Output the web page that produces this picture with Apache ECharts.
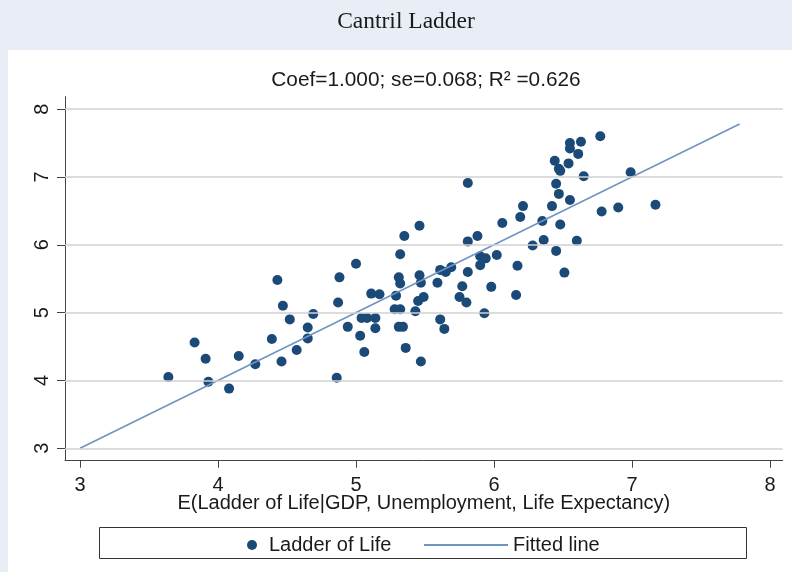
<!DOCTYPE html>
<html><head><meta charset="utf-8">
<script src="https://cdn.jsdelivr.net/npm/echarts@6/dist/echarts.min.js"></script>
<style>html,body{margin:0;padding:0;background:#fff}#c{width:792px;height:572px}</style>
</head><body><div id="c"></div>
<script>
// ---- text ----
const chartTitle = 'Cantril Ladder';
const statsLine = 'Coef=1.000; se=0.068; R\u00B2 =0.626';
const xAxisTitle = 'E(Ladder of Life|GDP, Unemployment, Life Expectancy)';
const seriesNames = ['Ladder of Life', 'Fitted line'];

// ---- tick labels ----
const xTicks = [3, 4, 5, 6, 7, 8];
const yTicks = [3, 4, 5, 6, 7, 8];

// ---- data: predicted ladder (x) and observed ladder (y) ----
const predicted = [
  3.64, 3.83, 3.91, 3.93, 4.08, 4.15, 4.27, 4.39, 4.43, 4.46,
  4.47, 4.52, 4.57, 4.65, 4.65, 4.69, 4.87, 4.86, 4.88, 5.81,
  5.46, 5.35, 5.81, 5.88, 6.06, 5.32, 5.00, 5.90, 5.94, 6.02,
  5.90, 5.31, 5.46, 5.32, 5.47, 5.61, 5.65, 5.69, 5.81, 5.59,
  5.77, 5.98, 5.11, 5.17, 5.29, 5.49, 5.45, 5.75, 5.80, 5.28,
  5.32, 5.43, 5.93, 5.04, 5.08, 5.14, 4.94, 5.14, 5.31, 5.34,
  5.61, 5.64, 5.03, 5.06, 5.36, 5.47, 6.77, 6.55, 6.63, 6.55,
  6.61, 6.44, 6.54, 6.47, 6.48, 6.65, 6.99, 6.45, 6.47, 6.55,
  6.42, 6.21, 6.19, 6.35, 6.48, 6.78, 6.90, 7.17, 6.28, 6.36,
  6.45, 6.60, 6.17, 6.51, 6.16
];
const ladder = [
  4.05, 4.56, 4.32, 3.98, 3.88, 4.36, 4.24, 4.61, 5.48, 4.28,
  5.10, 4.90, 4.45, 4.78, 4.62, 4.98, 5.15, 4.04, 5.52, 6.91,
  6.28, 6.13, 6.05, 6.13, 6.32, 5.86, 5.72, 5.83, 5.80, 5.85,
  5.70, 5.52, 5.55, 5.43, 5.44, 5.63, 5.60, 5.67, 5.60, 5.44,
  5.39, 5.38, 5.28, 5.27, 5.25, 5.23, 5.17, 5.23, 5.15, 5.05,
  5.05, 5.02, 4.99, 4.92, 4.92, 4.92, 4.79, 4.77, 4.79, 4.79,
  4.90, 4.76, 4.66, 4.42, 4.48, 4.28, 7.60, 7.50, 7.52, 7.42,
  7.34, 7.24, 7.20, 7.12, 7.09, 7.01, 7.07, 6.90, 6.75, 6.66,
  6.57, 6.57, 6.41, 6.35, 6.30, 6.49, 6.55, 6.59, 5.99, 6.07,
  5.91, 6.06, 5.69, 5.59, 5.26
];
// ---- fitted line end points ----
const fitX = [3.0, 7.78];
const fitY = [3.0, 7.78];

const scatterPts = predicted.map((x, i) => [x, ladder[i]]);
const fitPts = fitX.map((x, i) => [x, fitY[i]]);

const SANS = '"Liberation Sans", Arial, sans-serif';
const SERIF = '"Liberation Serif", "Times New Roman", serif';
const PANEL_BG = '#E9EDF6';
const DOT = '#1C4A78';
const FIT = '#7094C0';
const AXIS = '#444444';
const TXT = '#1a1a1a';

const chart = echarts.init(document.getElementById('c'), null, {renderer: 'canvas'});
chart.setOption({
  backgroundColor: '#ffffff',
  animation: false,
  textStyle: {fontFamily: SANS},
  grid: {left: 65, right: 9.3, top: 96.7, bottom: 111.3, containLabel: false},
  xAxis: {
    type: 'value', min: 2.891, max: 8.092,
    name: xAxisTitle, nameLocation: 'middle', nameGap: 33, nameMoveOverlap: false,
    nameTextStyle: {fontSize: 20, color: TXT, fontFamily: SANS},
    axisLine: {show: true, onZero: false, lineStyle: {color: AXIS, width: 1}},
    axisTick: {show: true, customValues: xTicks, length: 7, lineStyle: {color: AXIS, width: 1}},
    axisLabel: {customValues: xTicks, fontSize: 20, color: TXT, margin: 15, fontFamily: SANS},
    splitLine: {show: false}
  },
  yAxis: {
    type: 'value', min: 2.817, max: 8.183,
    axisLine: {show: true, onZero: false, lineStyle: {color: AXIS, width: 1}},
    axisTick: {show: true, customValues: yTicks, length: 8, lineStyle: {color: AXIS, width: 1}},
    axisLabel: {customValues: yTicks, fontSize: 20, color: TXT, margin: 13, rotate: 90, fontFamily: SANS},
    splitLine: {show: false}
  },
  legend: [
    {
      data: [{name: seriesNames[0], icon: 'circle'}],
      left: 242, top: 530, itemWidth: 24, itemHeight: 10, itemGap: 0,
      textStyle: {fontSize: 20, color: TXT, fontFamily: SANS}, selectedMode: false
    },
    {
      data: [{name: seriesNames[1], icon: 'rect'}],
      left: 419, top: 530, itemWidth: 84, itemHeight: 2, itemGap: 0,
      textStyle: {fontSize: 20, color: TXT, fontFamily: SANS}, selectedMode: false
    }
  ],
  graphic: [
    {type: 'rect', silent: true, shape: {x: 0, y: 0, width: 792, height: 50}, style: {fill: PANEL_BG}},
    {type: 'rect', silent: true, shape: {x: 0, y: 50, width: 8, height: 522}, style: {fill: PANEL_BG}},
    {type: 'text', silent: true, x: 406, y: 22,
      style: {text: chartTitle, fontSize: 23.5, fontFamily: SERIF, fill: TXT, textAlign: 'center', textVerticalAlign: 'middle'}},
    {type: 'text', silent: true, x: 426, y: 80,
      style: {text: statsLine, fontSize: 20.8, fontFamily: SANS, fill: TXT, textAlign: 'center', textVerticalAlign: 'middle'}},
    {type: 'rect', silent: true, shape: {x: 99.5, y: 527.5, width: 647, height: 31},
      style: {fill: 'none', stroke: '#333', lineWidth: 1}}
  ],
  series: [
    {
      name: '__grid', type: 'line', data: [], z: 1, silent: true,
      markLine: {
        silent: true, symbol: ['none', 'none'], label: {show: false},
        lineStyle: {color: '#d0d0d0', width: 1.5, type: 'solid'},
        emphasis: {disabled: true},
        data: yTicks.map(v => ({yAxis: v}))
      }
    },
    {
      name: seriesNames[0], type: 'scatter', data: scatterPts, z: 3,
      symbol: 'circle', symbolSize: 10,
      itemStyle: {color: DOT, opacity: 1}
    },
    {
      name: seriesNames[1], type: 'line', data: fitPts, z: 4,
      symbol: 'none', showSymbol: false,
      lineStyle: {color: FIT, width: 1.6},
      itemStyle: {color: FIT}
    }
  ]
});
</script>
</body></html>
